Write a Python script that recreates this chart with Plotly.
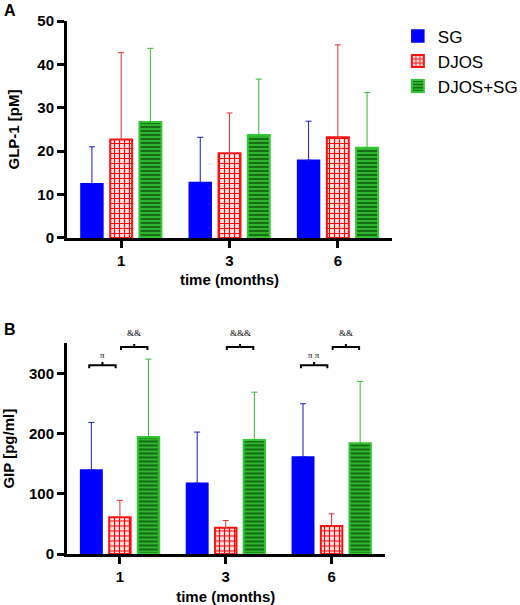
import plotly.graph_objects as go

# ---------------- data ----------------
months = ["1", "3", "6"]
groups = ["SG", "DJOS", "DJOS+SG"]

glp1_sg = [12.5, 12.8, 17.9]
glp1_sg_sd = [8.5, 10.4, 9.0]
glp1_djos = [22.7, 19.5, 23.2]
glp1_djos_sd = [20.0, 9.3, 21.3]
glp1_djossg = [26.7, 23.7, 20.8]
glp1_djossg_sd = [17.0, 12.9, 12.7]

gip_sg = [139.8, 117.7, 161.4]
gip_sg_sd = [79.0, 85.0, 88.4]
gip_djos = [61.0, 43.6, 46.4]
gip_djos_sd = [28.0, 12.0, 20.4]
gip_djossg = [194.5, 189.5, 184.0]
gip_djossg_sd = [129.5, 79.5, 103.0]

# significance brackets in panel B: (group index, label, pair)
sig_brackets = [
    (0, "π", "left"),
    (0, "&amp;&amp;", "right"),
    (1, "&amp;&amp;&amp;", "right"),
    (2, "π π", "left"),
    (2, "&amp;&amp;", "right"),
]

# ---------------- style ----------------
FONT = "Liberation Sans, Arial, Helvetica, sans-serif"
xpos = [0, 1, 2]

styles = {
    "SG": dict(marker=dict(color="#0000ff", line=dict(color="#0000ff", width=1.5)),
               err="#1a1ad0"),
    "DJOS": dict(marker=dict(color="#ff0000", line=dict(color="#ff1010", width=2),
                             pattern=dict(shape="+", fgcolor="#ff0000", bgcolor="#ffe2e2",
                                          size=5, solidity=0.4, fillmode="replace")),
                 err="#e03030"),
    "DJOS+SG": dict(marker=dict(color="#2db52d", line=dict(color="#33c833", width=2),
                                pattern=dict(shape="-", fgcolor="#145a14", bgcolor="#2db52d",
                                             size=4, solidity=0.4, fillmode="replace")),
                    err="#33bb33"),
}

fig = go.Figure()

panelA = [(glp1_sg, glp1_sg_sd), (glp1_djos, glp1_djos_sd), (glp1_djossg, glp1_djossg_sd)]
panelB = [(gip_sg, gip_sg_sd), (gip_djos, gip_djos_sd), (gip_djossg, gip_djossg_sd)]

for name, (m, s) in zip(groups, panelA):
    st = styles[name]
    fig.add_trace(go.Bar(
        x=xpos, y=m, name=name, marker=st["marker"],
        offsetgroup=name,
        error_y=dict(type="data", symmetric=False, array=s, arrayminus=[0] * len(s),
                     color=st["err"], thickness=1, width=3),
        xaxis="x", yaxis="y"))

for name, (m, s) in zip(groups, panelB):
    st = styles[name]
    fig.add_trace(go.Bar(
        x=xpos, y=m, name=name, marker=st["marker"],
        offsetgroup=name, showlegend=False,
        error_y=dict(type="data", symmetric=False, array=s, arrayminus=[0] * len(s),
                     color=st["err"], thickness=1, width=3),
        xaxis="x2", yaxis="y2"))

# brackets
shapes = []
annotations = []
for g, label, side in sig_brackets:
    if side == "left":
        x0, x1, yb, ysh = g - 0.29, g - 0.04, 314, 3
    else:
        x0, x1, yb, ysh = g + 0.01, g + 0.26, 344, 7
    xm = (x0 + x1) / 2
    path = f"M {x0},{yb-5} L {x0},{yb} L {x1},{yb} L {x1},{yb-5} M {xm},{yb} L {xm},{yb+5}"
    shapes.append(dict(type="path", path=path, xref="x2", yref="y2",
                       line=dict(color="black", width=2)))
    annotations.append(dict(x=xm, y=yb, xref="x2", yref="y2", text=label, showarrow=False,
                            yanchor="bottom", xanchor="center", yshift=ysh,
                            font=dict(family="Liberation Serif, serif", size=9, color="#000000")))

annotations.append(dict(x=-0.175, y=1.0206, xref="paper", yref="paper", text="<b>A</b>",
                        xanchor="center", yanchor="middle",
                        showarrow=False, font=dict(family=FONT, size=16, color="black")))
annotations.append(dict(x=-0.175, y=0.422, xref="paper", yref="paper", text="<b>B</b>",
                        xanchor="center", yanchor="middle",
                        showarrow=False, font=dict(family=FONT, size=16, color="black")))

axis_common = dict(showline=True, linecolor="black", linewidth=3, ticks="outside",
                   tickwidth=2.5, ticklen=7, tickcolor="black", showgrid=False, zeroline=False,
                   automargin=False,
                   tickfont=dict(family=FONT, size=15, color="black", weight="bold"))

fig.update_layout(
    width=520, height=605,
    margin=dict(l=67, r=128, t=21, b=51, autoexpand=False),
    paper_bgcolor="white", plot_bgcolor="white",
    barmode="group", bargap=0.19, bargroupgap=0.25,
    showlegend=True,
    legend=dict(x=1.018, y=1.005, xanchor="left", yanchor="top", tracegroupgap=0,
                font=dict(family=FONT, size=17, color="black"),
                bgcolor="rgba(0,0,0,0)"),
    xaxis=dict(domain=[0, 1], anchor="y", range=[-0.5, 2.5], tickvals=xpos, ticktext=months,
               title=dict(text="<b>time (months)</b>", standoff=7,
                          font=dict(family=FONT, size=15, color="black")),
               **axis_common),
    yaxis=dict(domain=[0.593, 1.0], anchor="x", range=[0, 50], tickvals=[0, 10, 20, 30, 40, 50],
               title=dict(text="<b>GLP-1 [pM]</b>", standoff=15,
                          font=dict(family=FONT, size=15, color="black")),
               **axis_common),
    xaxis2=dict(domain=[0, 0.977], anchor="y2", range=[-0.5, 2.5], tickvals=xpos, ticktext=months,
                title=dict(text="<b>time (months)</b>", standoff=9,
                           font=dict(family=FONT, size=15, color="black")),
                **axis_common),
    yaxis2=dict(domain=[0.0, 0.395], anchor="x2", range=[0, 350], tickvals=[0, 100, 200, 300],
                title=dict(text="<b>GIP [pg/ml]</b>", standoff=15,
                           font=dict(family=FONT, size=15, color="black")),
                **axis_common),
    shapes=shapes,
    annotations=annotations,
)

fig.write_html("out.html", config={"displayModeBar": False},
               post_script="document.body.style.margin='0px';")
